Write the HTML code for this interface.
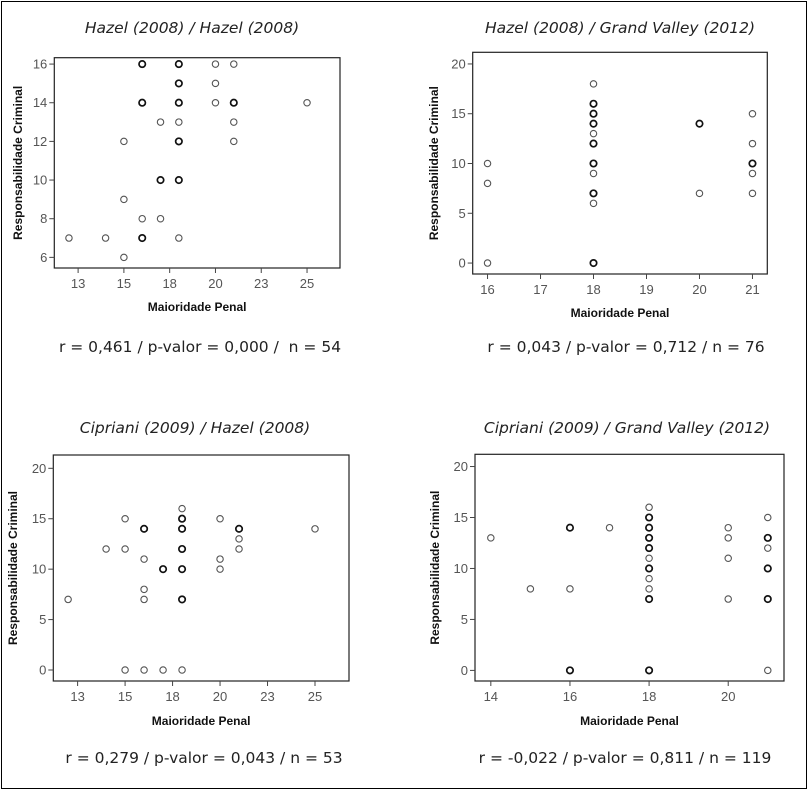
<!DOCTYPE html>
<html><head><meta charset="utf-8">
<style>
html,body{margin:0;padding:0;background:#fff;}
svg{display:block;}
.title{font-family:"DejaVu Sans","Liberation Sans",sans-serif;font-style:italic;font-size:15.5px;fill:#222;}
.stat{font-family:"DejaVu Sans","Liberation Sans",sans-serif;font-size:15.5px;fill:#222;}
.tick{font-family:"Liberation Sans",sans-serif;font-size:13px;fill:#555;}
.axl{font-family:"Liberation Sans",sans-serif;font-size:12px;font-weight:bold;fill:#111;}
</style></head>
<body>
<svg id="root" width="809" height="791" viewBox="0 0 809 791" xmlns="http://www.w3.org/2000/svg">
<rect x="1.5" y="1.5" width="805" height="787" fill="#fff" stroke="#000" stroke-width="1"/>
<text class="title" x="192" y="33" text-anchor="middle">Hazel (2008) / Hazel (2008)</text>
<text class="title" x="620" y="33" text-anchor="middle">Hazel (2008) / Grand Valley (2012)</text>
<text class="title" x="195" y="433" text-anchor="middle">Cipriani (2009) / Hazel (2008)</text>
<text class="title" x="627" y="433" text-anchor="middle">Cipriani (2009) / Grand Valley (2012)</text>
<text class="stat" x="200" y="352" text-anchor="middle" xml:space="preserve">r = 0,461 / p-valor = 0,000 /  n = 54</text>
<text class="stat" x="626" y="352" text-anchor="middle">r = 0,043 / p-valor = 0,712 / n = 76</text>
<text class="stat" x="204" y="763" text-anchor="middle">r = 0,279 / p-valor = 0,043 / n = 53</text>
<text class="stat" x="625" y="763" text-anchor="middle">r = -0,022 / p-valor = 0,811 / n = 119</text>
</svg>
<script>
// Panel 1: Hazel / Hazel
const p1X = [16,18,20,21, 18,20, 16,18,20,21,25, 17,18,21, 15,18,21, 17,18, 15, 16,17, 12,14,16,18, 15];
const p1Y = [16,16,16,16, 15,15, 14,14,14,14,14, 13,13,13, 12,12,12, 10,10, 9, 8,8, 7,7,7,7, 6];
const p1M = [1,1,0,0, 1,0, 1,1,0,1,0, 0,0,0, 0,1,0, 1,1, 0, 0,0, 0,0,1,0, 0];
const p1XTicks = [12.5,15,17.5,20,22.5,25];
const p1XLabels = ["13","15","18","20","23","25"];
const p1YTicks = [6,8,10,12,14,16];
// Panel 2: Hazel / Grand Valley
const p2X = [16,16,16, 18,18,18,18,18,18,18,18,18,18,18, 20,20, 21,21,21,21,21];
const p2Y = [10,8,0, 18,16,15,14,13,12,10,9,7,6,0, 14,7, 15,12,10,9,7];
const p2M = [0,0,0, 0,1,1,1,0,1,1,0,1,0,1, 1,0, 0,0,1,0,0];
const p2XTicks = [16,17,18,19,20,21];
const p2XLabels = ["16","17","18","19","20","21"];
const p2YTicks = [0,5,10,15,20];
// Panel 3: Cipriani / Hazel
const p3X = [12, 14, 15,15,15, 16,16,16,16,16, 17,17, 18,18,18,18,18,18,18, 20,20,20, 21,21,21, 25];
const p3Y = [7, 12, 15,12,0, 14,11,8,7,0, 10,0, 16,15,14,12,10,7,0, 15,11,10, 14,13,12, 14];
const p3M = [0, 0, 0,0,0, 1,0,0,0,0, 1,0, 0,1,1,1,1,1,0, 0,0,0, 1,0,0, 0];
const p3XTicks = [12.5,15,17.5,20,22.5,25];
const p3XLabels = ["13","15","18","20","23","25"];
const p3YTicks = [0,5,10,15,20];
// Panel 4: Cipriani / Grand Valley
const p4X = [14, 15, 16,16,16, 17, 18,18,18,18,18,18,18,18,18,18,18, 20,20,20,20, 21,21,21,21,21,21];
const p4Y = [13, 8, 14,8,0, 14, 16,15,14,13,12,11,10,9,8,7,0, 14,13,11,7, 15,13,12,10,7,0];
const p4M = [0, 0, 1,0,1, 0, 0,1,1,1,1,0,1,0,0,1,1, 0,0,0,0, 0,1,0,1,1,0];
const p4XTicks = [14,16,18,20];
const p4XLabels = ["14","16","18","20"];
const p4YTicks = [0,5,10,15,20];

const NS = "http://www.w3.org/2000/svg";
const root = document.getElementById('root');
function mk(tag, attrs, parent){
  const e = document.createElementNS(NS, tag);
  for (const k in attrs) e.setAttribute(k, attrs[k]);
  (parent||root).appendChild(e);
  return e;
}
function panel(id, box, xd, yd, xs, ys, ms, xt, xl, yt, xlabY, ylabX){
  const g = mk('g', {});
  
  
  const sx = v => box.l + (v - xd[0]) / (xd[1] - xd[0]) * (box.r - box.l);
  const sy = v => box.b - (v - yd[0]) / (yd[1] - yd[0]) * (box.b - box.t);
  const fr = mk('rect', {x:box.l, y:box.t, width:box.r-box.l, height:box.b-box.t, fill:'#fff', stroke:'#222', 'stroke-width':1.2}, g);
  
  
  xt.forEach((t,i)=>{
    const x = sx(t);
    mk('line', {x1:x, x2:x, y1:box.b, y2:box.b+5, stroke:'#444'}, g);
    const tx = mk('text', {x:x, y:box.b+20, 'text-anchor':'middle', class:'tick'}, g);
    tx.textContent = xl[i];
    
    
  });
  yt.forEach(t=>{
    const y = sy(t);
    mk('line', {x1:box.l-5, x2:box.l, y1:y, y2:y, stroke:'#444'}, g);
    const tx = mk('text', {x:box.l-7, y:y+4.5, 'text-anchor':'end', class:'tick'}, g);
    tx.textContent = String(t);
    
    
  });
  xs.forEach((v,i)=>{
    const c = mk('circle', {cx:sx(v), cy:sy(ys[i]), r:3.2, fill:'none',
      stroke: ms[i] ? '#111' : '#555', 'stroke-width': ms[i] ? 1.7 : 1.1}, g);
    
    
  });
  const xa = mk('text', {x:(box.l+box.r)/2, y:xlabY, 'text-anchor':'middle', class:'axl'}, g);
  xa.textContent = 'Maioridade Penal';
  
  
  const cy = (box.t+box.b)/2;
  const ya = mk('text', {x:ylabX, y:cy, 'text-anchor':'middle', class:'axl', transform:'rotate(-90 '+ylabX+' '+cy+')'}, g);
  ya.textContent = 'Responsabilidade Criminal';
  
  
}
panel('hazel-hazel', {l:54.3,r:340,t:57.7,b:268}, [11.2,26.8],[5.45,16.33], p1X,p1Y,p1M,p1XTicks,p1XLabels,p1YTicks, 311, 22);
panel('hazel-grandvalley', {l:472.7,r:767.3,t:52.3,b:274}, [15.72,21.28],[-1.1,21.17], p2X,p2Y,p2M,p2XTicks,p2XLabels,p2YTicks, 317, 438);
panel('cipriani-hazel', {l:53.3,r:349,t:455,b:681}, [11.22,26.79],[-1.09,21.32], p3X,p3Y,p3M,p3XTicks,p3XLabels,p3YTicks, 725, 17);
panel('cipriani-grandvalley', {l:475,r:784,t:454.3,b:681}, [13.6,21.41],[-1.04,21.2], p4X,p4Y,p4M,p4XTicks,p4XLabels,p4YTicks, 725, 439);
</script>
</body></html>
